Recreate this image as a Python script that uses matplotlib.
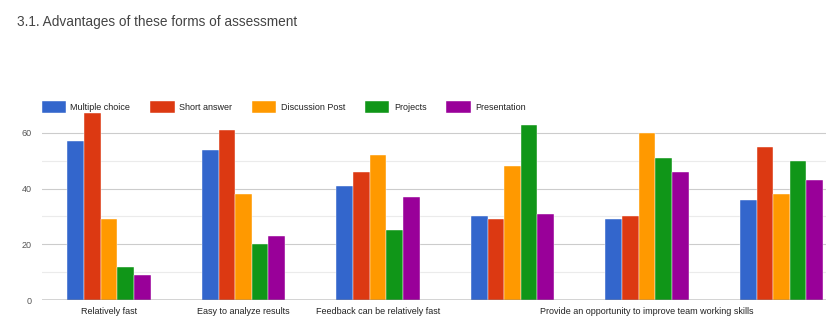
import matplotlib.pyplot as plt
import numpy as np

plt.rcParams['font.family'] = ['Liberation Sans', 'DejaVu Sans']

# categories (google forms hides some labels that would overlap)
categories = ["Relatively fast", "Easy to analyze results", "Feedback can be relatively fast",
              "", "Provide an opportunity to improve team working skills", ""]
series = ["Multiple choice", "Short answer", "Discussion Post", "Projects", "Presentation"]
colors = ["#3366CC", "#DC3912", "#FF9900", "#109618", "#990099"]

multiple_choice = [57, 54, 41, 30, 29, 36]
short_answer = [67, 61, 46, 29, 30, 55]
discussion_post = [29, 38, 52, 48, 60, 38]
projects = [12, 20, 25, 63, 51, 50]
presentation = [9, 23, 37, 31, 46, 43]
values = [multiple_choice, short_answer, discussion_post, projects, presentation]

fig = plt.figure(figsize=(8.26, 3.23), dpi=100)
ax = fig.add_axes([41.75 / 826, 23 / 323, 1 - 41.75 / 826, 195 / 323])

x = np.arange(len(categories))
w = 0.1235
for i, (name, vals) in enumerate(zip(series, values)):
    ax.bar(x + (i - 2) * w, vals, w, color=colors[i], label=name,
           edgecolor="white", linewidth=0.3, zorder=3)

ax.set_xlim(-0.5, (826 - 41.75) / 134.5 - 0.5)
ax.set_ylim(0, 70)
ax.set_yticks([0, 20, 40, 60])
ax.set_yticks([10, 30, 50], minor=True)
ax.grid(axis="y", which="major", color="#cccccc", linewidth=0.8, zorder=0)
ax.grid(axis="y", which="minor", color="#ebebeb", linewidth=0.8, zorder=0)
ax.axhline(0, color="#333333", linewidth=1, zorder=4)
for s in ax.spines.values():
    s.set_visible(False)
ax.tick_params(axis="y", which="both", length=0, pad=7, labelsize=6.5, labelcolor="#555555")
ax.set_xticks(x)
ax.set_xticklabels(categories)
ax.tick_params(axis="x", length=0, pad=5, labelsize=6.5, labelcolor="#222222")

fig.legend(loc="upper left", bbox_to_anchor=(38 / 826, 1 - 97 / 323), ncol=5,
           frameon=False, fontsize=6.5, handlelength=2.7, handleheight=1.7,
           columnspacing=2.2, handletextpad=0.5, borderaxespad=0, labelcolor="#222222")

fig.text(17 / 826, 1 - 22 / 323, "3.1. Advantages of these forms of assessment",
         fontsize=9.8, color="#444444", va="center", ha="left")

fig.savefig("out.png", dpi=100)
